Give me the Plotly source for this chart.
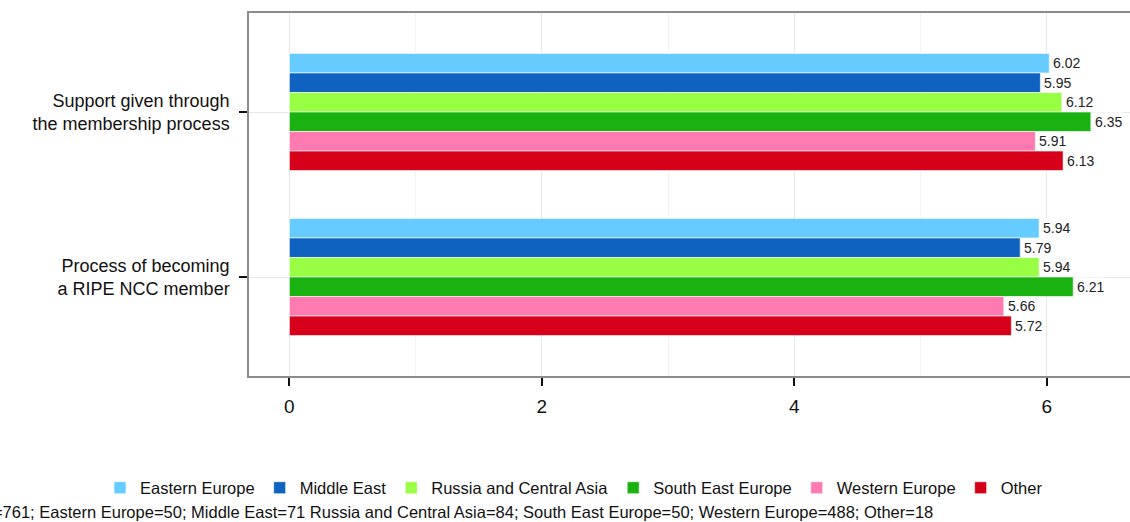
import plotly.graph_objects as go

categories = ["Support given through<br>the membership process",
              "Process of becoming<br>a RIPE NCC member"]
series = ["Eastern Europe", "Middle East", "Russia and Central Asia",
          "South East Europe", "Western Europe", "Other"]
values = {
    "Eastern Europe": [6.02, 5.94],
    "Middle East": [5.95, 5.79],
    "Russia and Central Asia": [6.12, 5.94],
    "South East Europe": [6.35, 6.21],
    "Western Europe": [5.91, 5.66],
    "Other": [6.13, 5.72],
}
colors = ["#66CCFF", "#1062C0", "#99FF44", "#1AB210", "#FF7AB0", "#D7001A"]
x_ticks = [0, 2, 4, 6]
caption = ("N=761; Eastern Europe=50; Middle East=71 Russia and Central Asia=84; "
           "South East Europe=50; Western Europe=488; Other=18")

cat_pos = list(range(len(categories)))
group_width = 0.71
bar_w = group_width / len(series)

fig = go.Figure()
for i, (s, c) in enumerate(zip(series, colors)):
    fig.add_trace(go.Bar(
        y=cat_pos, x=values[s], name=s, orientation="h",
        marker=dict(color=c, line=dict(color="rgba(255,255,255,0.6)", width=1)),
    ))
    for j, v in enumerate(values[s]):
        fig.add_annotation(
            x=v, y=cat_pos[j] - group_width / 2 + (i + 0.5) * bar_w,
            text=f"{v:.2f}", showarrow=False, xanchor="left", yanchor="middle",
            xshift=2, bgcolor="white", borderpad=1,
            font=dict(size=14, color="#222222", family="Liberation Sans, Arial"),
        )

fig.add_annotation(
    xref="paper", yref="paper", x=(935 - 249) / 881, y=(376 - 512) / 363,
    text=caption, showarrow=False, xanchor="right", yanchor="middle",
    font=dict(size=16.5, color="#111111", family="Liberation Sans, Arial"),
)

fig.update_layout(
    width=1130, height=522,
    margin=dict(l=249, r=0, t=13, b=146, autoexpand=False),
    paper_bgcolor="white", plot_bgcolor="white",
    barmode="group", bargap=1 - group_width, bargroupgap=0,
    font=dict(family="Liberation Sans, Arial", color="#111111"),
    showlegend=True,
    legend=dict(
        orientation="h", xref="paper", yref="paper",
        x=(100 - 249) / 881, xanchor="left", y=(376 - 488) / 363, yanchor="middle",
        font=dict(size=16.5), traceorder="normal", itemwidth=30,
        itemclick=False, bgcolor="rgba(0,0,0,0)",
    ),
    xaxis=dict(
        range=[-0.32, 6.66], tickvals=x_ticks, ticktext=[str(t) for t in x_ticks],
        showgrid=True, gridcolor="#e8e8e8", gridwidth=1,
        minor=dict(dtick=1, tick0=0, showgrid=True, gridcolor="#f3f3f3", gridwidth=1),
        zeroline=False, showline=True, linecolor="#8c8c8c", linewidth=1.5, mirror=True,
        ticks="outside", ticklen=8, tickwidth=2, tickcolor="#111111",
        tickfont=dict(size=19, color="#111111"), ticklabelstandoff=4,
        automargin=False,
    ),
    yaxis=dict(
        range=[1.6, -0.6], tickvals=cat_pos, ticktext=categories,
        showgrid=True, gridcolor="#e8e8e8", gridwidth=1,
        zeroline=False, showline=True, linecolor="#8c8c8c", linewidth=1.5, mirror=False,
        ticks="outside", ticklen=8, tickwidth=2, tickcolor="#111111",
        tickfont=dict(size=18, color="#111111"), ticklabelstandoff=6,
        automargin=False,
    ),
)

fig.write_html("out.html", config={"displayModeBar": False},
               post_script="document.body.style.margin='0';")
